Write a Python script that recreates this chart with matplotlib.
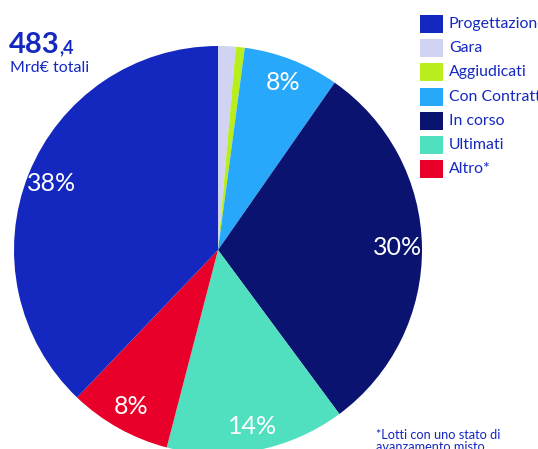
import matplotlib
matplotlib.use("Agg")
import matplotlib.pyplot as plt
from matplotlib.patches import Rectangle

categories = ["Gara", "Aggiudicati", "Con Contratto", "In corso", "Ultimati", "Altro*", "Progettazione"]
values = [1.4, 0.7, 7.6, 30.2, 14.2, 8.1, 37.9]
colors = ["#D0D4F2", "#B8EE1E", "#28A8FA", "#0A1470", "#50E0C0", "#E8002A", "#1428C0"]

legend_order = ["Progettazione", "Gara", "Aggiudicati", "Con Contratto", "In corso", "Ultimati", "Altro*"]

total_int = "483"
total_dec = ",4"
total_label = "Mrd€ totali"
footnote = "*Lotti con uno stato di\navanzamento misto"

W, H = 538, 449
plt.rcParams['font.family'] = ['Lato', 'DejaVu Sans']
fig = plt.figure(figsize=(W / 100, H / 100), dpi=100)
ax = fig.add_axes([0, 0, 1, 1])

def Y(y):
    return H - y

def pct(p):
    return f"{p:.0f}%" if p >= 3 else ""

wedges, texts, autotexts = ax.pie(
    values, colors=colors, startangle=90, counterclock=False,
    center=(218, Y(250)), radius=204, autopct=pct, pctdistance=0.88,
    wedgeprops=dict(linewidth=0), textprops=dict(color="white", fontsize=18))
ax.set_xlim(0, W)
ax.set_ylim(0, H)
ax.set_aspect('auto')
ax.axis('off')

# total
ax.text(9, Y(45), total_int, fontsize=21, fontweight='bold', color="#1428C0", va='center', ha='left')
ax.text(59, Y(48), total_dec, fontsize=13, fontweight='bold', color="#1428C0", va='center', ha='left')
ax.text(10, Y(68), total_label, fontsize=11.5, color="#1428C0", va='center', ha='left')

# legend
cmap = dict(zip(categories, colors))
for i, name in enumerate(legend_order):
    y0 = 15 + i * 24.2
    ax.add_patch(Rectangle((420, Y(y0 + 18)), 23, 18, facecolor=cmap[name], edgecolor='none'))
    ax.text(449, Y(y0 + 9), name, fontsize=11.4, color="#1428C0", va='center', ha='left', clip_on=False)

ax.text(376, Y(429), footnote, fontsize=9.2, color="#1428C0", va='top', ha='left', linespacing=1.0)

fig.savefig("out.png", dpi=100)
